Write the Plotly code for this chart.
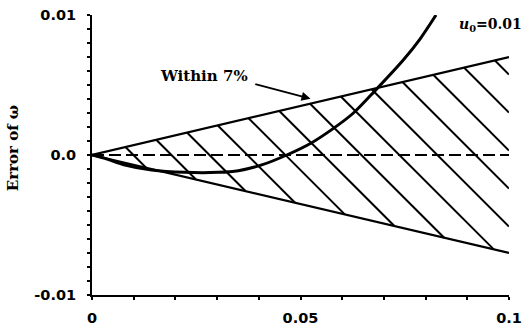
import numpy as np
import plotly.graph_objects as go

# ---------------- data ----------------
bound_x = [0.0, 0.1]
upper_bound = [0.0, 0.007]      # +7 % band
lower_bound = [0.0, -0.007]     # -7 % band
zero_x = [0.0, 0.1]
zero_y = [0.0, 0.0]
err_x = [0.0, 0.00312, 0.00791, 0.0143, 0.0223, 0.0303, 0.0351, 0.0407,
         0.0467, 0.0527, 0.0579, 0.0627, 0.0679, 0.0747, 0.0787, 0.0825]
err_y = [0.0, -0.00024, -0.00071, -0.00107, -0.00124, -0.00124, -0.00112, -0.00071,
         0.0, 0.00088, 0.0019, 0.0030, 0.0046, 0.0068, 0.0083, 0.0100]
x_tickvals = [0, 0.05, 0.1]
x_ticktext = ["0", "0.05", "0.1"]
y_tickvals = [-0.01, 0, 0.01]
y_ticktext = ["-0.01", "0.0", "0.01"]

# ---------------- layout geometry ----------------
W, H = 526, 332
ML, MR, MT, MB = 92, 17, 15, 37
XR = [0.0, 0.1]
YR = [-0.01, 0.01]
plot_w = W - ML - MR
plot_h = H - MT - MB

# hatch: 45 deg (screen) lines descending to the right
hatch_start = 0.00993
hatch_step = 0.009113
n_hatch = 13
slope = -((YR[1] - YR[0]) / plot_h) / ((XR[1] - XR[0]) / plot_w)

xs = np.linspace(XR[0], XR[1], 4001)
up = np.interp(xs, bound_x, upper_bound)
lo = np.interp(xs, bound_x, lower_bound)
hx, hy = [], []
for i in range(n_hatch):
    x0 = hatch_start + i * hatch_step
    line = slope * (xs - x0)
    d_up = line - up
    idx_up = np.where(np.diff(np.sign(d_up)) != 0)[0]
    if len(idx_up) == 0:
        continue
    xa = xs[idx_up[0]]
    d_lo = line - lo
    idx_lo = np.where(np.diff(np.sign(d_lo)) != 0)[0]
    xb = xs[idx_lo[0]] if len(idx_lo) else XR[1]
    hx += [xa, xb, None]
    hy += [slope * (xa - x0), slope * (xb - x0), None]

fig = go.Figure()
fig.add_trace(go.Scatter(x=hx, y=hy, mode="lines",
                         line=dict(color="black", width=2), hoverinfo="skip"))
fig.add_trace(go.Scatter(x=bound_x, y=upper_bound, mode="lines",
                         line=dict(color="black", width=2.2)))
fig.add_trace(go.Scatter(x=bound_x, y=lower_bound, mode="lines",
                         line=dict(color="black", width=2.2)))
fig.add_trace(go.Scatter(x=zero_x, y=zero_y, mode="lines",
                         line=dict(color="black", width=2, dash="12px,5px")))
fig.add_trace(go.Scatter(x=err_x, y=err_y, mode="lines",
                         line=dict(color="black", width=3, shape="spline", smoothing=0.8)))

tick_font = dict(family="DejaVu Sans", size=14.5, color="black", weight="bold")
serif = "DejaVu Serif"

fig.update_layout(
    width=W, height=H,
    margin=dict(l=ML, r=MR, t=MT, b=MB, autoexpand=False),
    paper_bgcolor="white", plot_bgcolor="white",
    showlegend=False,
    xaxis=dict(range=XR, showgrid=False, zeroline=False, automargin=False,
               showline=True, linecolor="black", linewidth=2,
               tickmode="array", tickvals=x_tickvals, ticktext=x_ticktext,
               ticks="outside", ticklen=3, tickwidth=2, tickcolor="black",
               ticklabelstandoff=6, tickfont=tick_font,
               minor=dict(tickmode="array",
                          tickvals=[round(0.01 * i, 3) for i in range(11)],
                          ticks="outside", ticklen=3, tickwidth=2, tickcolor="black")),
    yaxis=dict(range=YR, showgrid=False, zeroline=False, automargin=False,
               showline=True, linecolor="black", linewidth=2,
               tickmode="array", tickvals=y_tickvals, ticktext=y_ticktext,
               ticks="outside", ticklen=3, tickwidth=2, tickcolor="black",
               ticklabelstandoff=8, tickfont=tick_font,
               minor=dict(tickmode="array",
                          tickvals=[round(0.001 * i, 4) for i in range(-10, 11)],
                          ticks="outside", ticklen=3, tickwidth=2, tickcolor="black")),
    annotations=[
        dict(text="Within 7%", x=0.0269, y=0.00561, xref="x", yref="y",
             showarrow=False, font=dict(family=serif, size=15, color="black", weight="bold")),
        dict(text="", x=0.0524, y=0.00402, ax=0.0388, ay=0.00509,
             xref="x", yref="y", axref="x", ayref="y",
             showarrow=True, arrowhead=2, arrowwidth=2, arrowsize=0.9, arrowcolor="black"),
        dict(text="<i>u</i><sub>0</sub>=0.01", x=1.036, y=0.964, xref="paper", yref="paper",
             xanchor="right", yanchor="middle", showarrow=False,
             font=dict(family=serif, size=14, color="black", weight="bold")),
        dict(text="Error of ω", x=-0.189, y=0.525, xref="paper", yref="paper",
             textangle=-90, showarrow=False, xanchor="center", yanchor="middle",
             font=dict(family=serif, size=15, color="black", weight="bold")),
    ],
)

fig.write_html("out.html", config={"displayModeBar": False},
               post_script="document.body.style.margin='0';")
